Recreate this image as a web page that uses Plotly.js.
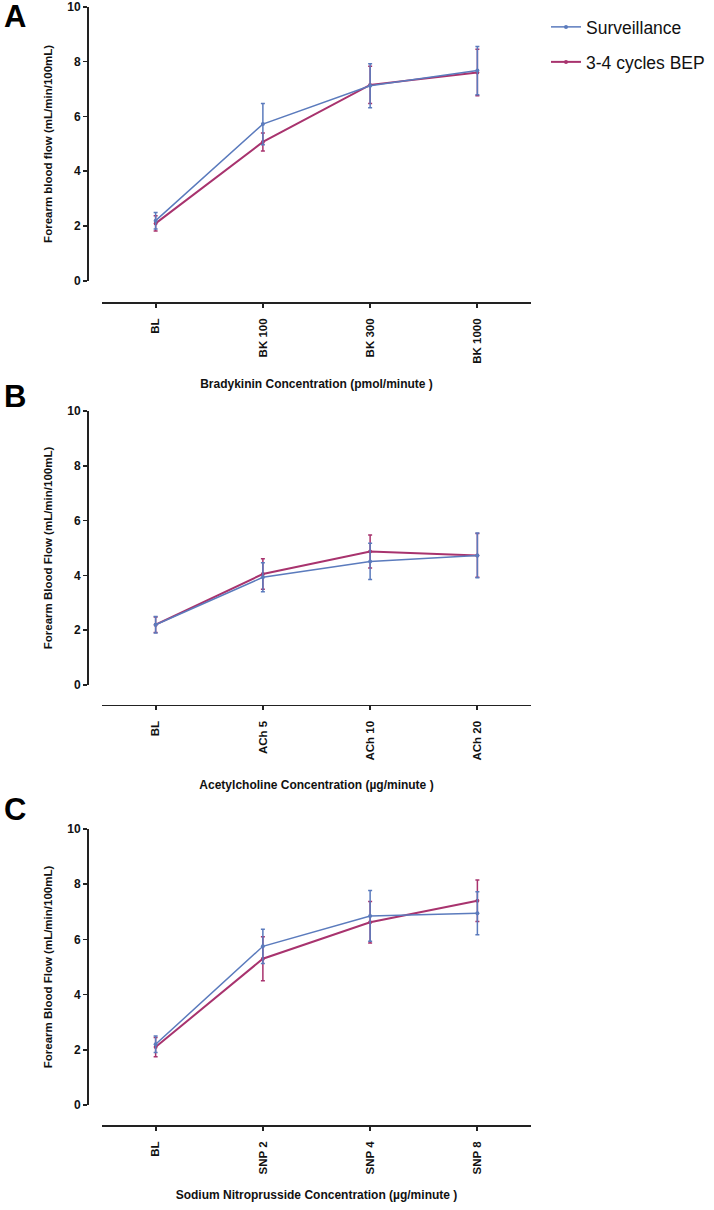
<!DOCTYPE html>
<html>
<head>
<meta charset="utf-8">
<script src="https://cdn.plot.ly/plotly-3.0.1.min.js"></script>
<style>
  body { margin: 0; background: #fff; }
  #plot { width: 714px; height: 1210px; }
</style>
</head>
<body>
<div id="plot"></div>
<script>
// categories for the three panels
var bkCats = ["BL", "BK 100", "BK 300", "BK 1000"];
var achCats = ["BL", "ACh 5", "ACh 10", "ACh 20"];
var snpCats = ["BL", "SNP 2", "SNP 4", "SNP 8"];

// panel A - bradykinin
var bkSurv = [2.2, 5.72, 7.12, 7.67];
var bkSurvErr = [0.3, 0.75, 0.8, 0.88];
var bkBep = [2.1, 5.07, 7.15, 7.6];
var bkBepErr = [0.28, 0.33, 0.68, 0.85];

// panel B - acetylcholine
var achSurv = [2.2, 3.93, 4.51, 4.73];
var achSurvErr = [0.3, 0.53, 0.66, 0.82];
var achBep = [2.2, 4.05, 4.87, 4.73];
var achBepErr = [0.28, 0.56, 0.6, 0.8];

// panel C - sodium nitroprusside
var snpSurv = [2.2, 5.75, 6.85, 6.95];
var snpSurvErr = [0.3, 0.62, 0.92, 0.78];
var snpBep = [2.1, 5.3, 6.62, 7.4];
var snpBepErr = [0.35, 0.8, 0.75, 0.75];

var yTicks = [0, 2, 4, 6, 8, 10];

var blue = '#5b7bbd';
var pink = '#a8336e';
var font = 'Liberation Sans, Arial, sans-serif';

// pixel -> paper helpers (page is 714 x 1210, no margins)
function px(x) { return x / 714; }
function py(y) { return 1 - y / 1210; }

function makeTrace(cats, vals, errs, name, color, width, n, legendName, show) {
    return {
        x: cats,
        y: vals,
        name: name,
        type: 'scatter',
        mode: 'lines+markers',
        xaxis: 'x' + (n == 1 ? '' : n),
        yaxis: 'y' + (n == 1 ? '' : n),
        line: {color: color, width: width},
        marker: {color: color, size: 4},
        error_y: {type: 'data', array: errs, visible: true, color: color, thickness: 1.5, width: 2},
        legend: legendName,
        showlegend: show,
        cliponaxis: false
    };
}

// pink first so blue sits on top
var data = [
    makeTrace(bkCats, bkBep, bkBepErr, '3-4 cycles BEP', pink, 2, 1, 'legend2', true),
    makeTrace(bkCats, bkSurv, bkSurvErr, 'Surveillance', blue, 1.5, 1, 'legend', true),
    makeTrace(achCats, achBep, achBepErr, '3-4 cycles BEP', pink, 2, 2, 'legend2', false),
    makeTrace(achCats, achSurv, achSurvErr, 'Surveillance', blue, 1.5, 2, 'legend', false),
    makeTrace(snpCats, snpBep, snpBepErr, '3-4 cycles BEP', pink, 2, 3, 'legend2', false),
    makeTrace(snpCats, snpSurv, snpSurvErr, 'Surveillance', blue, 1.5, 3, 'legend', false)
];

function xAxis(yPos, title, standoff) {
    return {
        domain: [px(102), px(531)],
        anchor: 'free',
        position: py(yPos),
        range: [-0.5, 3.5],
        showgrid: false,
        zeroline: false,
        showline: true,
        linecolor: '#222',
        linewidth: 1.8,
        ticks: 'outside',
        ticklen: 4,
        tickwidth: 1.8,
        tickcolor: '#222',
        tickangle: -90,
        ticklabelstandoff: 6,
        ticklabeloverflow: 'allow',
        tickfont: {family: font, size: 11.5, weight: 'bold', color: '#111'},
        title: {text: title, standoff: standoff, font: {family: font, size: 12, weight: 'bold', color: '#111'}},
        fixedrange: true
    };
}

function yAxis(top, bottom, title) {
    return {
        domain: [py(bottom), py(top)],
        anchor: 'free',
        position: px(87),
        range: [0, 10],
        tickvals: yTicks,
        showgrid: false,
        zeroline: false,
        showline: true,
        linecolor: '#222',
        linewidth: 1.8,
        ticks: 'outside',
        ticklen: 4,
        tickwidth: 1.8,
        tickcolor: '#222',
        ticklabeloverflow: 'allow',
        tickfont: {family: font, size: 12, weight: 'bold', color: '#111'},
        title: {text: title, standoff: 10, font: {family: font, size: 11.5, weight: 'bold', color: '#111'}},
        fixedrange: true
    };
}

function letter(txt, yc) {
    return {
        text: txt, xref: 'paper', yref: 'paper',
        x: px(2), y: py(yc), xanchor: 'left', yanchor: 'middle',
        showarrow: false,
        font: {family: font, size: 31, weight: 'bold', color: '#000'}
    };
}

var layout = {
    width: 714,
    height: 1210,
    margin: {l: 0, r: 0, t: 0, b: 0},
    paper_bgcolor: '#fff',
    plot_bgcolor: '#fff',
    xaxis: xAxis(302, 'Bradykinin Concentration (pmol/minute )', 17),
    yaxis: yAxis(6.7, 281, 'Forearm blood flow (mL/min/100mL)'),
    xaxis2: xAxis(704.5, 'Acetylcholine Concentration (\u00b5g/minute )', 21),
    yaxis2: yAxis(411, 685, 'Forearm Blood Flow (mL/min/100mL)'),
    xaxis3: xAxis(1125, 'Sodium Nitroprusside Concentration (\u00b5g/minute )', 17),
    yaxis3: yAxis(829, 1105, 'Forearm Blood Flow (mL/min/100mL)'),
    legend: {
        x: px(546), y: py(27), xanchor: 'left', yanchor: 'middle',
        bgcolor: 'rgba(0,0,0,0)',
        font: {family: font, size: 17.5, color: '#111'}
    },
    legend2: {
        x: px(546), y: py(62), xanchor: 'left', yanchor: 'middle',
        bgcolor: 'rgba(0,0,0,0)',
        font: {family: font, size: 17.5, color: '#111'}
    },
    annotations: [letter('A', 16), letter('B', 396), letter('C', 809)],
    showlegend: true
};

Plotly.newPlot('plot', data, layout, {displayModeBar: false, staticPlot: true});
</script>
</body>
</html>
